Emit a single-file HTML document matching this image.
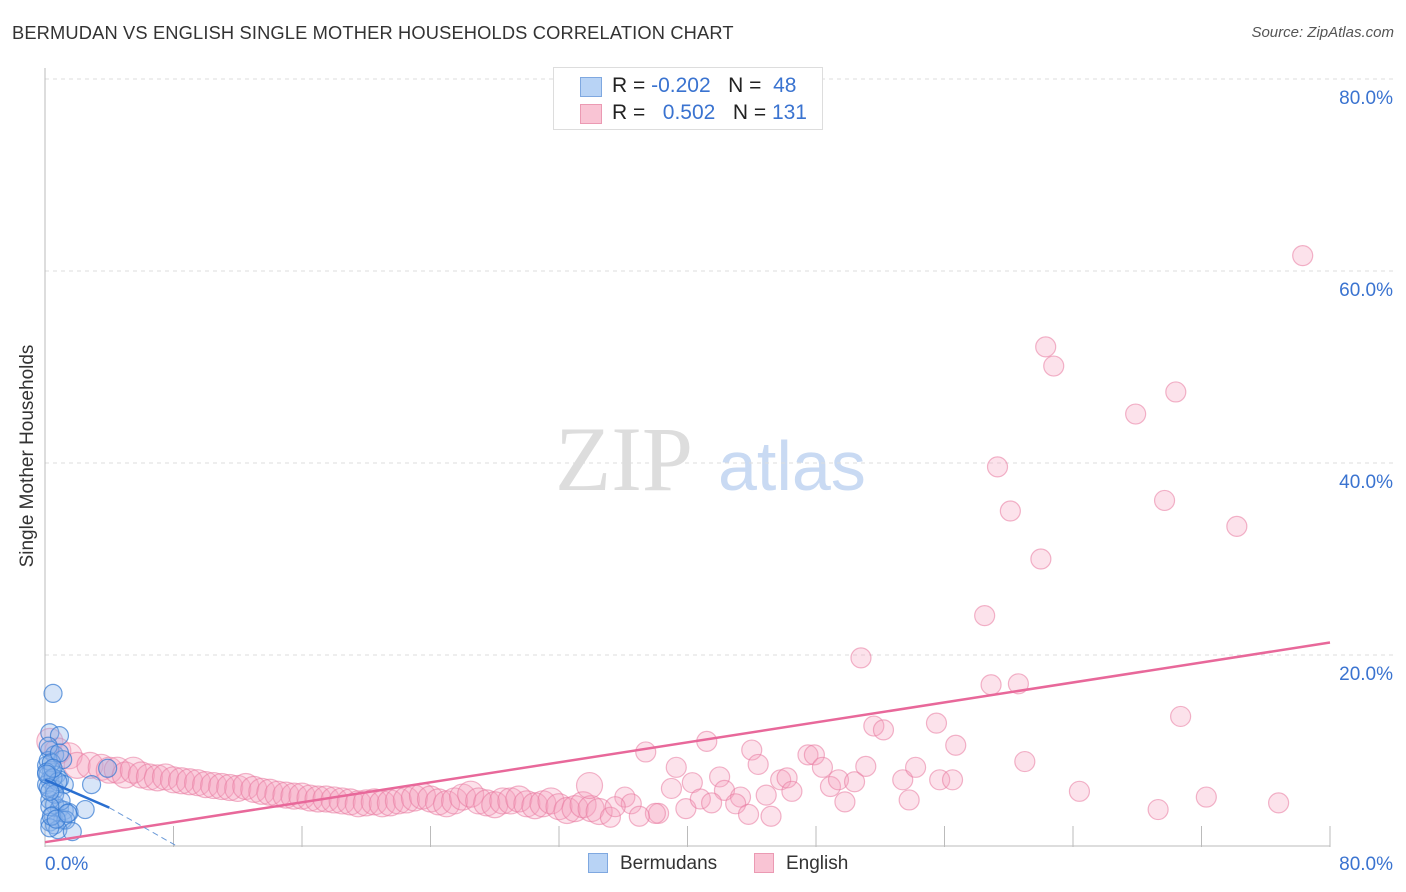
<!DOCTYPE html>
<html><head><meta charset="utf-8"><style>
body{margin:0;background:#fff;font-family:"Liberation Sans",sans-serif;}
#wrap{position:relative;width:1406px;height:892px;overflow:hidden;}
.t{position:absolute;white-space:nowrap;}
</style></head><body>
<div id="wrap">
<div class="t" style="left:12px;top:22px;font-size:18.3px;color:#333;letter-spacing:0.15px">BERMUDAN VS ENGLISH SINGLE MOTHER HOUSEHOLDS CORRELATION CHART</div>
<div class="t" style="right:12px;top:24px;font-size:15px;color:#555;font-style:italic">Source: ZipAtlas.com</div>
<div class="t" style="left:18px;top:456px;font-size:19px;color:#333;transform:translate(-50%,-50%) rotate(-90deg);transform-origin:center;margin-left:10px">Single Mother Households</div>
<svg id="svg" width="1406" height="892" style="position:absolute;left:0;top:0"></svg>
<div class="t" style="left:553px;top:67px;width:270px;height:63px;border:1px solid #ddd;background:#fff;box-sizing:border-box">
 <div style="position:absolute;left:26px;top:9px;width:20px;height:18px;background:#b8d3f5;border:1px solid #7fa8e0"></div>
 <div style="position:absolute;left:26px;top:36px;width:20px;height:18px;background:#f9c4d4;border:1px solid #eb9ab3"></div>
 <div style="position:absolute;left:58px;top:6px;font-size:21px;color:#222">R = <span style="color:#3a73d0">-0.202</span>&nbsp;&nbsp;&nbsp;N = &nbsp;<span style="color:#3a73d0">48</span></div>
 <div style="position:absolute;left:58px;top:33px;font-size:21px;color:#222">R = &nbsp;&nbsp;<span style="color:#3a73d0">0.502</span>&nbsp;&nbsp;&nbsp;N = <span style="color:#3a73d0">131</span></div>
</div>
<div class="t" style="left:588px;top:853px;width:20px;height:20px;background:#b8d3f5;border:1px solid #7fa8e0;box-sizing:border-box"></div>
<div class="t" style="left:620px;top:853px;font-size:19px;color:#333">Bermudans</div>
<div class="t" style="left:754px;top:853px;width:20px;height:20px;background:#f9c4d4;border:1px solid #eb9ab3;box-sizing:border-box"></div>
<div class="t" style="left:786px;top:853px;font-size:19px;color:#333">English</div>
</div>
<script>
const yTicks=[20,40,60,80];
const yTickLabels=["20.0%","40.0%","60.0%","80.0%"];
const xTicks=[8,16,24,32,40,48,56,64,72,80];
const englishX=[0.3,0.8,1.5,2,2.8,3.5,4,4.5,5,5.5,6,6.5,7,7.5,8,8.5,9,9.5,10,10.5,11,11.5,12,12.5,13,13.5,14,14.5,15,15.5,16,16.5,17,17.5,18,18.5,19,19.5,20,20.5,21,21.5,22,22.5,23,23.5,24,24.5,25,25.5,26,26.5,27,27.5,28,28.5,29,29.5,30,30.5,31,31.5,32,32.5,33,33.5,34,34.5,35.2,36.1,37.4,38.2,39,39.3,39.9,40.3,41.2,42,42.3,43.3,44,44.4,44.9,45.8,46.2,47.5,47.9,48.4,48.9,49.4,49.8,50.4,51.1,50.8,51.6,52.2,53.4,53.8,54.2,55.5,55.7,56.5,56.7,58.5,58.9,59.3,60.1,60.6,61,62,62.3,62.8,64.4,67.9,69.3,69.7,70.4,70.7,72.3,74.2,76.8,78.3,36.5,38,40.8,43,45.2,33.9,35.5,37,41.5,43.8,46.5];
const englishY=[11,10,9.5,8.5,8.5,8.3,8,8,7.5,8,7.5,7.3,7.2,7.3,7,6.9,6.8,6.7,6.5,6.4,6.3,6.2,6.1,6.3,6,5.8,5.7,5.5,5.4,5.3,5.3,5.1,5,5,4.9,4.8,4.7,4.5,4.6,4.7,4.5,4.6,4.8,4.9,5.1,5.3,5,4.7,4.5,4.8,5.2,5.5,4.8,4.6,4.4,4.8,4.8,5,4.5,4.3,4.5,4.8,4.2,3.8,4,4.4,4,3.7,3.1,5.2,9.9,3.5,6.1,8.3,4,6.7,11,7.3,5.9,5.2,10.1,8.6,5.4,7,7.2,9.6,9.6,8.3,6.3,7,4.7,6.8,8.4,19.7,12.6,12.2,7,4.9,8.3,12.9,7,7,10.6,24.1,16.9,39.6,35,17,8.9,30,52.1,50.1,5.8,45.1,3.9,36.1,47.4,13.6,5.2,33.4,4.6,61.6,4.5,3.5,5,4.5,3.2,6.4,4.2,3.2,4.6,3.4,5.8];
const bermX=[0.5,0.3,0.9,0.3,0.6,1.1,0.1,0.4,0.2,0.7,0.3,0.9,0.1,0.6,1.2,2.9,3.9,0.3,0.6,0.9,1.2,1.5,0.5,1.1,2.5,0.3,0.6,1.3,0.8,1.7,0.3,0.2,0.4,0.1,0.5,0.8,0.2,0.6,1,0.3,0.4,0.7,1.4,0.2,0.9,0.5,0.3,0.1];
const bermY=[16,11.9,11.6,10.1,9.6,9.1,8.5,8,7.5,7.5,7,7,6.5,6,6.5,6.5,8.2,4.9,4.4,4,3.8,3.6,3.3,2.8,3.9,2.6,2.3,2.8,1.8,1.6,2,9,8.8,7.8,7.2,6.8,6.2,5.5,4.8,4.2,3.2,2.9,3.5,10.5,9.8,8.2,5.8,7.6];
const engTrend=[0.5,21.3];
const bermTrend=[7,4.1,0.2];
const X0=45,X1=1330,Y0=847,YT=79;
const sx=v=>X0+v*(X1-X0)/80;
const sy=v=>Y0-v*(Y0-YT)/80;
const svg=document.getElementById('svg');
const NS='http://www.w3.org/2000/svg';
function mk(t,a){const e=document.createElementNS(NS,t);for(const k in a)e.setAttribute(k,a[k]);svg.appendChild(e);return e;}
let w=mk('text',{x:555,y:490,'font-size':92,'font-family':'Liberation Serif',fill:'#ddd'});w.textContent='ZIP';


let w2=mk('text',{x:718,y:490,'font-size':70,'font-family':'Liberation Sans',fill:'#c9daf3'});w2.textContent='atlas';


yTicks.forEach((v,i)=>{
 const g=mk('line',{x1:X0,x2:1393,y1:sy(v),y2:sy(v),stroke:'#ddd','stroke-dasharray':'4,4'});
 
 
 const t=mk('text',{x:1393,y:sy(v)+25,'text-anchor':'end','font-size':19,fill:'#3a73d0','font-family':'Liberation Sans'});
 t.textContent=yTickLabels[i];
 
 
});
let ax=mk('line',{x1:X0,x2:X0,y1:68,y2:Y0,stroke:'#bbb'});


let bx=mk('line',{x1:X0,x2:X1,y1:Y0-1,y2:Y0-1,stroke:'#bbb'});


xTicks.forEach(v=>{
 const l=mk('line',{x1:sx(v),x2:sx(v),y1:Y0-21,y2:Y0,stroke:'#bbb'});
 
 
});
[['0.0%',45,'start'],['80.0%',1393,'end']].forEach(a=>{
 const t=mk('text',{x:a[1],y:870,'text-anchor':a[2],'font-size':19,fill:'#3a73d0','font-family':'Liberation Sans'});
 t.textContent=a[0];
 
 
});
englishX.forEach((x,i)=>{
 const r=x<35?13:10;
 const c=mk('circle',{cx:sx(x),cy:sy(englishY[i]),r:r,fill:'rgba(246,160,188,0.3)',stroke:'rgba(232,120,158,0.55)','stroke-width':1.2});
 
 
});
bermX.forEach((x,i)=>{
 const c=mk('circle',{cx:sx(x),cy:sy(bermY[i]),r:9,fill:'rgba(140,180,235,0.35)',stroke:'rgba(50,120,210,0.7)','stroke-width':1.2});
 
 
});
let et=mk('line',{x1:sx(0),y1:sy(engTrend[0]),x2:sx(80),y2:sy(engTrend[1]),stroke:'#e8689a','stroke-width':2.5});


let bt=mk('line',{x1:sx(0),y1:sy(bermTrend[0]),x2:sx(4),y2:sy(bermTrend[1]),stroke:'#2a6fd0','stroke-width':2.5});


let bd=mk('line',{x1:sx(4),y1:sy(bermTrend[1]),x2:sx(8.1),y2:sy(bermTrend[2]),stroke:'#6b9ad8','stroke-width':1,'stroke-dasharray':'6,4'});


</script>
</body></html>
